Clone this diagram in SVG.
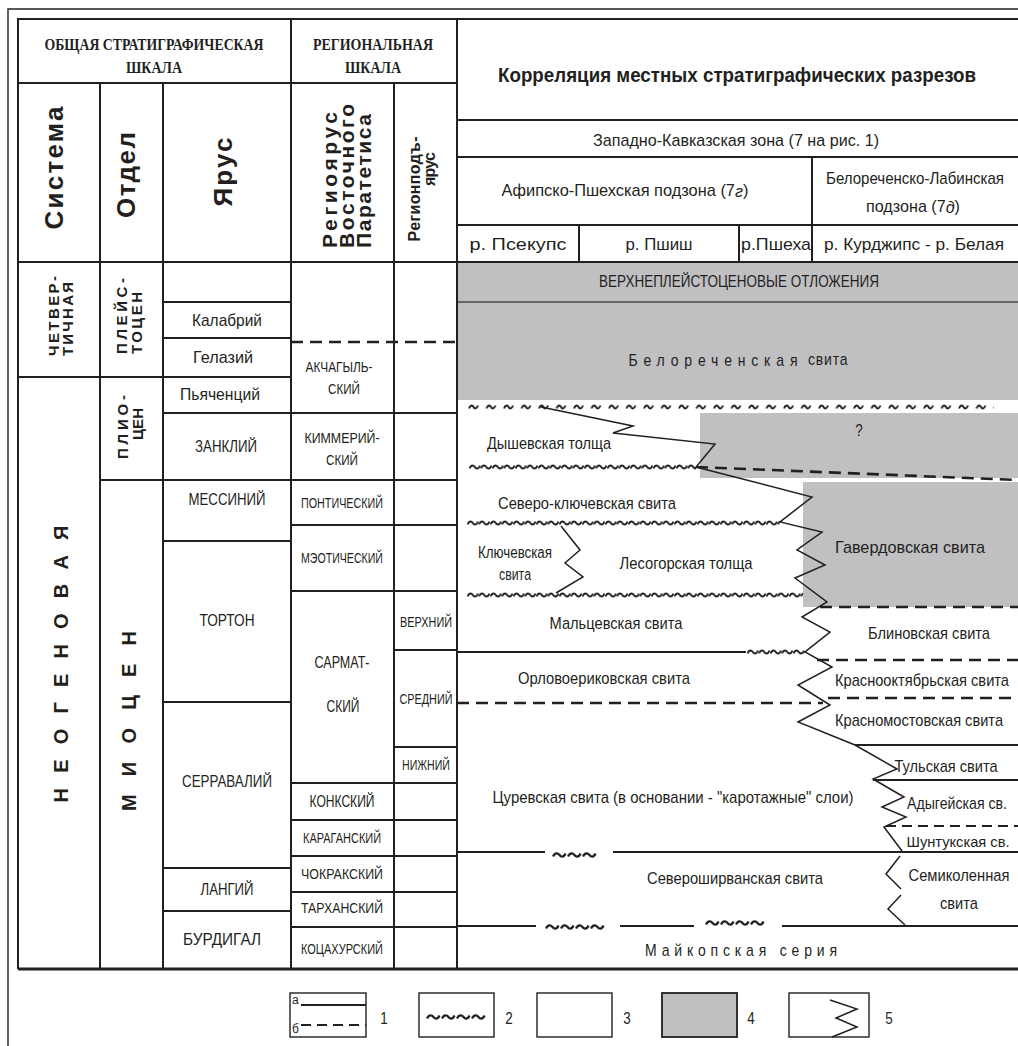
<svg xmlns="http://www.w3.org/2000/svg" width="1018" height="1046" viewBox="0 0 1018 1046">
<defs>
<style>
.ln{fill:none;stroke:#231f20;stroke-width:2}
.thk{stroke-width:3}
.thin{stroke-width:1.4}
.dash{fill:none;stroke:#231f20;stroke-width:2.6;stroke-dasharray:12 7}
.dsh2{fill:none;stroke:#231f20;stroke-width:2;stroke-dasharray:10 6}
.zz{fill:none;stroke:#231f20;stroke-width:1.5}
.gr{fill:#c0c0c2}
text{fill:#231f20}
.n{font-family:"Liberation Sans",Arial,sans-serif}
.b{font-family:"Liberation Sans",Arial,sans-serif;font-weight:bold}
.s{font-family:"Liberation Serif","Times New Roman",serif;font-weight:bold;font-size:16px}
.c{text-anchor:middle;dominant-baseline:central}
.st{text-anchor:start;dominant-baseline:central}
.a{font-size:14px}
.m{font-size:13.4px}
.k{font-size:12.6px}
.t{font-size:12px}
.f16{font-size:16px}
.f15{font-size:15px}
</style>
<pattern id="wd" width="11.5" height="10" patternUnits="userSpaceOnUse"><path d="M0.5,6.5 C2,2.5 4.5,3 5.75,5 S9.5,7.5 11,3.5" fill="none" stroke="#231f20" stroke-width="1.9"/></pattern>
<pattern id="ws" width="17.5" height="10" patternUnits="userSpaceOnUse"><path d="M1,6.5 C2.5,2.5 4.5,3 5.5,5 S8.5,7.5 10,3.5" fill="none" stroke="#231f20" stroke-width="1.9"/></pattern>
<pattern id="wb" width="15" height="10" patternUnits="userSpaceOnUse"><path d="M1,6.5 C3,2 6,3 7.5,5 S11.5,8 13.5,3.5" fill="none" stroke="#231f20" stroke-width="2.3"/></pattern>
</defs>
<rect width="1018" height="1046" fill="#fff"/>

<g id="frame">
<path class="ln thin" d="M8,1046 V9 H1018"/>
<path class="ln" stroke-width="2.5" d="M18,969 V19 H1018"/>
<path class="ln thk" d="M18,969 H1018"/>
</g>

<g id="fills">
<rect class="gr" x="458" y="263" width="560" height="39"/>
<rect class="gr" x="458" y="302" width="560" height="98"/>
<rect class="gr" x="700" y="413" width="318" height="65"/>
<rect class="gr" x="803" y="482" width="215" height="125"/>
<path d="M458,302 H1018" fill="none" stroke="#4a4a4a" stroke-width="1.5"/>
</g>

<g id="grid">
<path class="ln" d="M100,83 V969 M163,83 V969 M291,19 V969 M394,83 V969 M457,19 V969"/>
<path class="ln" d="M18,83 H457 M18,377 H291 M163,302 H291 M163,338 H291 M163,413 H457 M100,480 H457 M291,525 H457 M291,591 H457 M394,650 H457 M394,747 H457 M291,783 H457 M291,820 H457 M291,856 H457 M291,892 H457 M291,927 H457"/>
<path class="ln" stroke-width="2.6" d="M18,262 H1018 M163,541 H291 M163,702 H291 M163,868 H291 M163,911 H291"/>
<path class="dash" d="M291,342 H461"/>
<path class="ln" d="M457,120 H1018 M457,157 H1018 M457,225 H1018 M812,157 V262 M579,225 V262 M739,225 V262"/>
</g>

<g id="header-left">
<text class="s c" x="154" y="44" textLength="219" lengthAdjust="spacingAndGlyphs">ОБЩАЯ СТРАТИГРАФИЧЕСКАЯ</text>
<text class="s c" x="154" y="67" textLength="56" lengthAdjust="spacingAndGlyphs">ШКАЛА</text>
<text class="s c" x="373" y="44" textLength="120" lengthAdjust="spacingAndGlyphs">РЕГИОНАЛЬНАЯ</text>
<text class="s c" x="373" y="67" textLength="56" lengthAdjust="spacingAndGlyphs">ШКАЛА</text>
<text class="b c" font-size="26" transform="translate(54,168) rotate(-90)" textLength="123" lengthAdjust="spacing">Система</text>
<text class="b c" font-size="26" transform="translate(126,175) rotate(-90)" textLength="86" lengthAdjust="spacing">Отдел</text>
<text class="b c" font-size="26" transform="translate(223,172) rotate(-90)" textLength="69" lengthAdjust="spacing">Ярус</text>
<text class="b st" font-size="21" transform="translate(329,248) rotate(-90)" textLength="136" lengthAdjust="spacing">Региоярус</text>
<text class="b st" font-size="21" transform="translate(346,248) rotate(-90)" textLength="144" lengthAdjust="spacing">Восточного</text>
<text class="b st" font-size="21" transform="translate(363,248) rotate(-90)" textLength="134" lengthAdjust="spacing">Паратетиса</text>
<text class="b c f16" transform="translate(414,189) rotate(-90)" textLength="105" lengthAdjust="spacing">Регионподъ-</text>
<text class="b c f16" transform="translate(429,169) rotate(-90)" textLength="34" lengthAdjust="spacing">ярус</text>
</g>

<g id="header-right">
<text class="b c" font-size="17.5" transform="translate(737,75) scale(1,1.2)" textLength="478" lengthAdjust="spacingAndGlyphs">Корреляция местных стратиграфических разрезов</text>
<text class="n c a" transform="translate(736,140) scale(1,1.2)" textLength="286" lengthAdjust="spacingAndGlyphs">Западно-Кавказская зона (7 на рис. 1)</text>
<text class="n c a" transform="translate(625,190) scale(1,1.2)" textLength="247" lengthAdjust="spacingAndGlyphs">Афипско-Пшехская  подзона (7<tspan font-style="italic">г</tspan>)</text>
<text class="n c a" transform="translate(915,178) scale(1,1.2)" textLength="178" lengthAdjust="spacingAndGlyphs">Белореченско-Лабинская</text>
<text class="n c a" transform="translate(913,206) scale(1,1.2)" textLength="94" lengthAdjust="spacingAndGlyphs">подзона (7<tspan font-style="italic">д</tspan>)</text>
<text class="n c a" transform="translate(518,244) scale(1,1.2)" textLength="97" lengthAdjust="spacingAndGlyphs">р. Псекупс</text>
<text class="n c a" transform="translate(659,244) scale(1,1.2)" textLength="67" lengthAdjust="spacingAndGlyphs">р. Пшиш</text>
<text class="n c a" transform="translate(776,244) scale(1,1.2)" textLength="70" lengthAdjust="spacingAndGlyphs">р.Пшеха</text>
<text class="n c a" transform="translate(914,244) scale(1,1.2)" textLength="180" lengthAdjust="spacingAndGlyphs">р. Курджипс - р. Белая</text>
</g>

<g id="system-series">
<text class="b st f15" transform="translate(53,356) rotate(-90)" textLength="80" lengthAdjust="spacing">ЧЕТВЕР-</text>
<text class="b st f15" transform="translate(67,356) rotate(-90)" textLength="74" lengthAdjust="spacing">ТИЧНАЯ</text>
<text class="b st f15" transform="translate(121,354) rotate(-90)" textLength="76" lengthAdjust="spacing">ПЛЕЙС-</text>
<text class="b st f15" transform="translate(136,354) rotate(-90)" textLength="62" lengthAdjust="spacing">ТОЦЕН</text>
<text class="b c f15" transform="translate(122,427) rotate(-90)" textLength="64" lengthAdjust="spacing">ПЛИО-</text>
<text class="b c f15" transform="translate(137,424) rotate(-90)" textLength="32" lengthAdjust="spacing">ЦЕН</text>
<text class="b c" font-size="20" transform="translate(61,664) rotate(-90)" textLength="277" lengthAdjust="spacing">НЕОГЕНОВАЯ</text>
<text class="b c" font-size="20" transform="translate(129,721) rotate(-90)" textLength="180" lengthAdjust="spacing">МИОЦЕН</text>
</g>

<g id="stages">
<text class="n c a" transform="translate(227,320) scale(1,1.2)" textLength="70" lengthAdjust="spacingAndGlyphs">Калабрий</text>
<text class="n c a" transform="translate(223,357) scale(1,1.2)" textLength="60" lengthAdjust="spacingAndGlyphs">Гелазий</text>
<text class="n c a" transform="translate(220,394) scale(1,1.2)" textLength="80" lengthAdjust="spacingAndGlyphs">Пьяченций</text>
<text class="n c m" transform="translate(226,447) scale(1,1.2)" textLength="62" lengthAdjust="spacingAndGlyphs">ЗАНКЛИЙ</text>
<text class="n c m" transform="translate(227,500) scale(1,1.2)" textLength="77" lengthAdjust="spacingAndGlyphs">МЕССИНИЙ</text>
<text class="n c m" transform="translate(227,621) scale(1,1.2)" textLength="55" lengthAdjust="spacingAndGlyphs">ТОРТОН</text>
<text class="n c m" transform="translate(227,782) scale(1,1.2)" textLength="90" lengthAdjust="spacingAndGlyphs">СЕРРАВАЛИЙ</text>
<text class="n c m" transform="translate(227,890) scale(1,1.2)" textLength="53" lengthAdjust="spacingAndGlyphs">ЛАНГИЙ</text>
<text class="n c m" transform="translate(222,940) scale(1,1.2)" textLength="78" lengthAdjust="spacingAndGlyphs">БУРДИГАЛ</text>
</g>

<g id="regional">
<text class="n c k" transform="translate(339,367) scale(1,1.2)" textLength="67" lengthAdjust="spacingAndGlyphs">АКЧАГЫЛЬ-</text>
<text class="n c k" transform="translate(344,389) scale(1,1.2)" textLength="32" lengthAdjust="spacingAndGlyphs">СКИЙ</text>
<text class="n c k" transform="translate(342,438) scale(1,1.2)" textLength="75" lengthAdjust="spacingAndGlyphs">КИММЕРИЙ-</text>
<text class="n c k" transform="translate(342,460) scale(1,1.2)" textLength="32" lengthAdjust="spacingAndGlyphs">СКИЙ</text>
<text class="n c t" transform="translate(342,503) scale(1,1.2)" textLength="82" lengthAdjust="spacingAndGlyphs">ПОНТИЧЕСКИЙ</text>
<text class="n c t" transform="translate(342,558) scale(1,1.2)" textLength="82" lengthAdjust="spacingAndGlyphs">МЭОТИЧЕСКИЙ</text>
<text class="n c m" transform="translate(342,663) scale(1,1.2)" textLength="55" lengthAdjust="spacingAndGlyphs">САРМАТ-</text>
<text class="n c m" transform="translate(343,707) scale(1,1.2)" textLength="33" lengthAdjust="spacingAndGlyphs">СКИЙ</text>
<text class="n c m" transform="translate(342,802) scale(1,1.2)" textLength="65" lengthAdjust="spacingAndGlyphs">КОНКСКИЙ</text>
<text class="n c t" transform="translate(342,838) scale(1,1.2)" textLength="78" lengthAdjust="spacingAndGlyphs">КАРАГАНСКИЙ</text>
<text class="n c k" transform="translate(342,874) scale(1,1.2)" textLength="82" lengthAdjust="spacingAndGlyphs">ЧОКРАКСКИЙ</text>
<text class="n c k" transform="translate(342,908) scale(1,1.2)" textLength="82" lengthAdjust="spacingAndGlyphs">ТАРХАНСКИЙ</text>
<text class="n c t" transform="translate(342,949) scale(1,1.2)" textLength="82" lengthAdjust="spacingAndGlyphs">КОЦАХУРСКИЙ</text>
<text class="n c t" transform="translate(426,622) scale(1,1.2)" textLength="52" lengthAdjust="spacingAndGlyphs">ВЕРХНИЙ</text>
<text class="n c t" transform="translate(426,699) scale(1,1.2)" textLength="53" lengthAdjust="spacingAndGlyphs">СРЕДНИЙ</text>
<text class="n c t" transform="translate(426,765) scale(1,1.2)" textLength="48" lengthAdjust="spacingAndGlyphs">НИЖНИЙ</text>
</g>

<g id="boundaries">
<rect x="0" y="0" width="526" height="10" fill="url(#ws)" transform="translate(468,402)"/>
<rect x="0" y="0" width="227" height="10" fill="url(#wd)" transform="translate(469,462)"/>
<rect x="0" y="0" width="313" height="10" fill="url(#wd)" transform="translate(467,518)"/>
<rect x="0" y="0" width="336" height="10" fill="url(#wd)" transform="translate(467,590)"/>
<rect x="0" y="0" width="58" height="10" fill="url(#wd)" transform="translate(747,647)"/>
<rect x="0" y="0" width="45" height="10" fill="url(#wb)" transform="translate(552,850)"/>
<rect x="0" y="0" width="60" height="10" fill="url(#wb)" transform="translate(545,922)"/>
<rect x="0" y="0" width="60" height="10" fill="url(#wb)" transform="translate(705,918)"/>
<path class="ln" d="M457,652 H746 M855,745 H1018 M873,780 H1018"/>
<path class="ln" stroke-width="2.6" d="M457,852 H545 M613,852 H1018 M457,926 H536 M620,926 H694 M782,926 H1018"/>
<path class="dash" d="M696,467 L1018,480 M820,607 H1018 M817,660 H1018 M828,698 H1018 M457,703 H823"/>
<path class="dsh2" d="M886,826 H1018"/>
<polyline class="zz" points="541,407 633,426 613,433 715,444 696,467 812,497 780,522 822,532 797,550 825,565 795,578 827,602 802,617 830,632 805,652 832,667 798,685 830,705 798,722 855,745 897,769 873,779 904,797 882,807 906,817 884,827 902,851"/>
<polyline class="zz" points="561,526 580,550 565,563 583,577 556,593"/>
<polyline class="zz" points="900,856 886,874 901,889"/>
<polyline class="zz" points="901,895 888,909 905,925"/>
</g>

<g id="units">
<text class="n c m" transform="translate(739,282) scale(1,1.2)" textLength="280" lengthAdjust="spacingAndGlyphs">ВЕРХНЕПЛЕЙСТОЦЕНОВЫЕ ОТЛОЖЕНИЯ</text>
<text class="n c a" transform="translate(738,359) scale(1,1.2)" textLength="219" lengthAdjust="spacing"><tspan letter-spacing="5">Белореченская</tspan> свита</text>
<text class="n c m" transform="translate(859,431) scale(1,1.2)">?</text>
<text class="n c a" transform="translate(549,443) scale(1,1.2)" textLength="124" lengthAdjust="spacingAndGlyphs">Дышевская толща</text>
<text class="n c a" transform="translate(587,503) scale(1,1.2)" textLength="178" lengthAdjust="spacingAndGlyphs">Северо-ключевская свита</text>
<text class="n c m" transform="translate(515,553) scale(1,1.2)" textLength="74" lengthAdjust="spacingAndGlyphs">Ключевская</text>
<text class="n c m" transform="translate(515,575) scale(1,1.2)" textLength="32" lengthAdjust="spacingAndGlyphs">свита</text>
<text class="n c a" transform="translate(686,563) scale(1,1.2)" textLength="133" lengthAdjust="spacingAndGlyphs">Лесогорская толща</text>
<text class="n c a" transform="translate(910,547) scale(1,1.2)" textLength="150" lengthAdjust="spacingAndGlyphs">Гавердовская свита</text>
<text class="n c a" transform="translate(616,623) scale(1,1.2)" textLength="133" lengthAdjust="spacingAndGlyphs">Мальцевская свита</text>
<text class="n c a" transform="translate(929,633) scale(1,1.2)" textLength="122" lengthAdjust="spacingAndGlyphs">Блиновская свита</text>
<text class="n c a" transform="translate(604,678) scale(1,1.2)" textLength="172" lengthAdjust="spacingAndGlyphs">Орловоериковская свита</text>
<text class="n c a" transform="translate(922,680) scale(1,1.2)" textLength="174" lengthAdjust="spacingAndGlyphs">Краснооктябрьская свита</text>
<text class="n c a" transform="translate(919,720) scale(1,1.2)" textLength="168" lengthAdjust="spacingAndGlyphs">Красномостовская свита</text>
<text class="n c a" transform="translate(946,766) scale(1,1.2)" textLength="103" lengthAdjust="spacingAndGlyphs">Тульская свита</text>
<text class="n c a" transform="translate(957,803) scale(1,1.2)" textLength="100" lengthAdjust="spacingAndGlyphs">Адыгейская св.</text>
<text class="n c k" transform="translate(958,842) scale(1,1.2)" textLength="103" lengthAdjust="spacingAndGlyphs">Шунтукская св.</text>
<text class="n c a" transform="translate(673,797) scale(1,1.2)" textLength="361" lengthAdjust="spacingAndGlyphs">Цуревская  свита (в основании - "каротажные" слои)</text>
<text class="n c a" transform="translate(735,878) scale(1,1.2)" textLength="176" lengthAdjust="spacingAndGlyphs">Североширванская свита</text>
<text class="n c a" transform="translate(959,875) scale(1,1.2)" textLength="101" lengthAdjust="spacingAndGlyphs">Семиколенная</text>
<text class="n c a" transform="translate(959,903) scale(1,1.2)" textLength="38" lengthAdjust="spacingAndGlyphs">свита</text>
<text class="n c a" transform="translate(743,950) scale(1,1.2)" textLength="196" lengthAdjust="spacing" letter-spacing="4">Майкопская   серия</text>
</g>

<g id="legend">
<rect class="ln thin" x="290" y="993" width="76" height="44"/>
<text class="n" font-size="12" x="292" y="1004">а</text>
<text class="n" font-size="12" x="292" y="1033">б</text>
<path class="ln" d="M301,1005 H366"/>
<path class="dsh2" d="M301,1025 H366"/>
<text class="n c m" transform="translate(384,1019) scale(1,1.2)">1</text>
<rect class="ln thin" x="419" y="993" width="75" height="44"/>
<rect x="0" y="0" width="60" height="10" fill="url(#wb)" transform="translate(426,1012)"/>
<text class="n c m" transform="translate(509,1019) scale(1,1.2)">2</text>
<rect class="ln thin" x="537" y="993" width="75" height="44"/>
<text class="n c m" transform="translate(627,1019) scale(1,1.2)">3</text>
<rect class="gr" x="662" y="993" width="75" height="44" stroke="#231f20" stroke-width="1.8"/>
<text class="n c m" transform="translate(751,1019) scale(1,1.2)">4</text>
<rect class="ln thin" x="789" y="993" width="80" height="44"/>
<polyline class="zz" points="830,1000 857,1009 836,1018 857,1027 832,1037"/>
<text class="n c m" transform="translate(889,1019) scale(1,1.2)">5</text>
</g>
</svg>
